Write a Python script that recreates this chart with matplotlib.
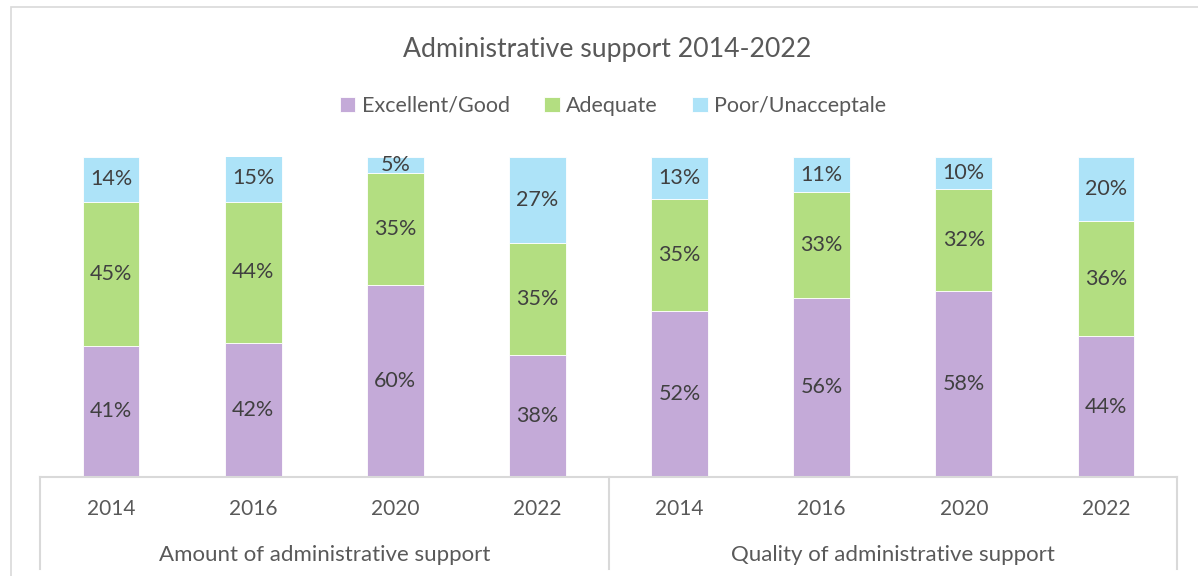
import matplotlib
matplotlib.use("Agg")
import matplotlib.pyplot as plt
from matplotlib.patches import Rectangle
from matplotlib.lines import Line2D

# Survey results, percent of respondents
groups = ["Amount of administrative support", "Quality of administrative support"]
years = ["2014", "2016", "2020", "2022"]
series_names = ["Excellent/Good", "Adequate", "Poor/Unacceptale"]
excellent_good = [41, 42, 60, 38, 52, 56, 58, 44]
adequate = [45, 44, 35, 35, 35, 33, 32, 36]
poor_unacceptable = [14, 15, 5, 27, 13, 11, 10, 20]

colors = ["#C4AAD8", "#B3DE81", "#ADE3F8"]
text_gray = "#595959"
label_gray = "#404040"
line_gray = "#D9D9D9"
font = "Lato"

W, H = 1198, 576
fig = plt.figure(figsize=(W / 100, H / 100), dpi=100)
fig.patch.set_facecolor("white")

# outer chart frame
fig.add_artist(Rectangle((11 / W, -0.05), 1.2, 1.05 - 7 / H, transform=fig.transFigure,
                         fill=False, edgecolor=line_gray, linewidth=1.2))

left, right, top, bottom = 40, 1177, 157, 477
ax = fig.add_axes([left / W, (H - bottom) / H, (right - left) / W, (bottom - top) / H])
ax.set_xlim(-0.5, 7.5)
ax.set_ylim(0, 100)
ax.axis("off")

x = list(range(len(excellent_good)))
width = 0.40
stack = [excellent_good, adequate, poor_unacceptable]
base = [0] * len(x)
handles = []
for vals, c, name in zip(stack, colors, series_names):
    bars = ax.bar(x, vals, width, bottom=base, color=c, edgecolor="white", linewidth=0.6, label=name)
    handles.append(bars)
    for xi, b, v in zip(x, base, vals):
        ax.text(xi, b + v / 2, f"{v}%", ha="center", va="center", fontsize=15.5,
                color=label_gray, family=font)
    base = [b + v for b, v in zip(base, vals)]

# category axis lines
kw = dict(color=line_gray, linewidth=1.5, clip_on=False, transform=ax.transAxes)
drop = -92 / (bottom - top)
ax.add_line(Line2D([0, 1], [0, 0], **kw))
for xf in (0, 0.5, 1):
    ax.add_line(Line2D([xf, xf], [0, drop], **kw))

# year labels and group labels
px = 100 / (bottom - top)
for xi in x:
    ax.text(xi, -32 * px, years[xi % 4], ha="center", va="center", fontsize=15,
            color=text_gray, family=font)
for gi, g in enumerate(groups):
    ax.text(1.5 + 4 * gi, -78 * px, g, ha="center", va="center", fontsize=16,
            color=text_gray, family=font)

fig.text(607 / W, 1 - 49 / H, "Administrative support 2014-2022", ha="center", va="center",
         fontsize=19.2, color=text_gray, family=font)

leg = fig.legend(handles=handles, labels=series_names, loc="center", ncol=3,
                 bbox_to_anchor=(613 / W, 1 - 106 / H), frameon=False,
                 handlelength=0.72, handleheight=0.72, handletextpad=0.3, columnspacing=1.6,
                 prop={"family": font, "size": 15.5})
for t in leg.get_texts():
    t.set_color(text_gray)

fig.savefig("out.png", dpi=100, facecolor="white")
